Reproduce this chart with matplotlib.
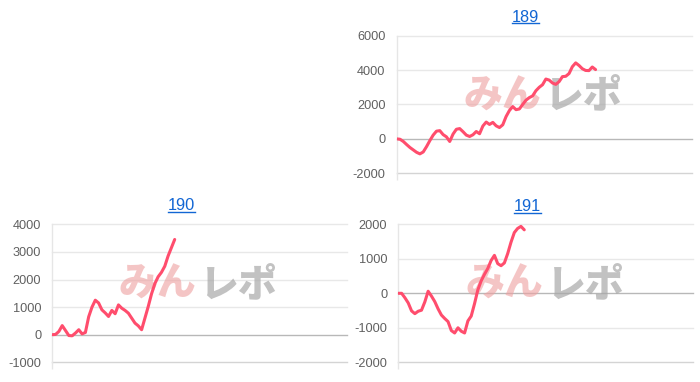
import matplotlib
matplotlib.use("Agg")
import matplotlib.pyplot as plt
from matplotlib.lines import Line2D

# ---- data ----
titles = ["189", "190", "191"]
n_labels = 90
s189 = [0, -20, -150, -330, -500, -640, -780, -870, -760, -450,
        -100, 220, 450, 480, 250, 120, -150, 280, 560, 600,
        420, 220, 140, 240, 430, 300, 750, 980, 840, 960,
        760, 660, 820, 1300, 1650, 1880, 1700, 1740, 2000, 2250,
        2400, 2500, 2800, 3000, 3150, 3480, 3420, 3250, 3170, 3330,
        3620, 3640, 3800, 4200, 4420, 4270, 4080, 3980, 3970, 4180,
        4030]
s190 = [0, 10, 120, 330, 150, -30, -40, 60, 180, 30,
        80, 650, 1000, 1250, 1150, 900, 790, 660, 880, 760,
        1080, 960, 880, 780, 600, 420, 320, 180, 600, 1020,
        1480, 1850, 2100, 2260, 2480, 2850, 3150, 3450]
s191 = [0, 0, -130, -280, -510, -590, -520, -490, -250, 60,
        -80, -240, -450, -630, -730, -820, -1080, -1150, -1000, -1100,
        -1150, -800, -660, -300, 100, 360, 550, 720, 950, 1100,
        860, 800, 880, 1150, 1480, 1760, 1880, 1940, 1840]
yticks189 = [-2000, 0, 2000, 4000, 6000]
yticks190 = [-1000, 0, 1000, 2000, 3000, 4000]
yticks191 = [-2000, -1000, 0, 1000, 2000]

W, H, DPI = 700, 382, 100
fig = plt.figure(figsize=(W / DPI, H / DPI), dpi=DPI)
fig.patch.set_facecolor("white")

LINE = "#ff4d6d"
BLUE = "#1266d4"
CJK = ["Noto Sans CJK JP", "DejaVu Sans"]


def px_axes(x0, y0, x1, y1):
    return fig.add_axes([x0 / W, 1 - y1 / H, (x1 - x0) / W, (y1 - y0) / H])


panels = [
    (s189, yticks189, (396.7, 35.7, 691.7, 173.3), (525.7, 17.3), titles[0]),
    (s190, yticks190, (52.3, 224.3, 346.7, 362.3), (181.7, 206.0), titles[1]),
    (s191, yticks191, (398.3, 224.3, 693.3, 362.3), (527.7, 206.7), titles[2]),
]

title_texts = []
for data, yt, box, tpos, title in panels:
    ax = px_axes(*box)
    ax.set_xlim(0, n_labels - 1)
    ax.set_ylim(yt[0], yt[-1])
    for sp in ["top", "right", "bottom"]:
        ax.spines[sp].set_visible(False)
    ax.spines["left"].set_color("#e6e6e6")
    ax.spines["left"].set_linewidth(1.0)
    ax.set_yticks(yt)
    ax.set_yticklabels([str(v) for v in yt], fontsize=9.2,
                       family="Liberation Sans", color="#606060")
    ax.tick_params(axis="y", length=0, pad=8.0)
    ax.set_xticks([0])
    ax.set_xticklabels([""])
    ax.tick_params(axis="x", length=5, color="#e6e6e6", width=1.0)
    for v in yt:
        if v == 0:
            c = "#b8b8b8"
        elif v == yt[0]:
            c = "#d4d4d4"
        else:
            c = "#e8e8e8"
        ax.axhline(v, color=c, lw=1.0, zorder=1, clip_on=False)
    # watermark
    ax.text(0.49, 0.565, "みん", transform=ax.transAxes, ha="right",
            va="center", fontsize=28, fontweight="heavy", family=CJK,
            color="#ee9f9f", alpha=0.6, zorder=2)
    ax.text(0.50, 0.565, "レポ", transform=ax.transAxes, ha="left",
            va="center", fontsize=28, fontweight="heavy", family=CJK,
            color="#a8a8a8", alpha=0.7, zorder=2)
    ax.plot(range(len(data)), data, color=LINE, lw=2.2, zorder=5,
            solid_joinstyle="round", solid_capstyle="round")
    t = fig.text(tpos[0] / W, 1 - tpos[1] / H, title, ha="center",
                 va="center", fontsize=11.8, family="Liberation Sans",
                 color=BLUE)
    title_texts.append(t)

fig.canvas.draw()
r = fig.canvas.get_renderer()
for t in title_texts:
    bb = t.get_window_extent(r)
    yline = bb.y0 + 1.5
    fig.add_artist(Line2D([bb.x0 / W, bb.x1 / W],
                          [yline / H, yline / H],
                          transform=fig.transFigure, color=BLUE, lw=1.0))

fig.savefig("out.png", dpi=DPI, facecolor="white")
